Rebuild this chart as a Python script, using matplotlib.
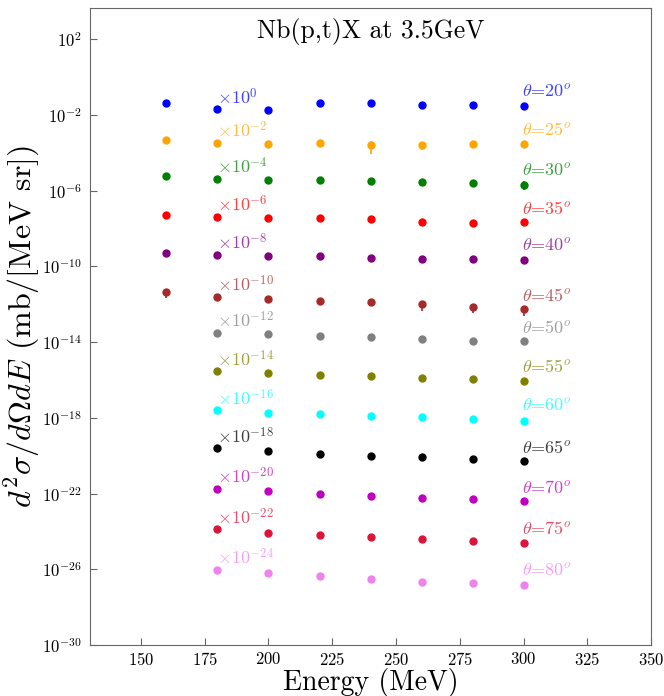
import numpy as np
import matplotlib
matplotlib.use('Agg')
import matplotlib.pyplot as plt

# Computer Modern look (no LaTeX in the sandbox)
plt.rcParams['font.family'] = 'serif'
plt.rcParams['font.serif'] = ['cmr10']
plt.rcParams['mathtext.fontset'] = 'cm'
plt.rcParams['axes.formatter.use_mathtext'] = True

# Energies of the measured points (MeV)
energy = [160, 180, 200, 220, 240, 260, 280, 300]

angles = [20, 25, 30, 35, 40, 45, 50, 55, 60, 65, 70, 75, 80]
colors = ['blue', 'orange', 'green', 'red', 'purple', 'brown', 'grey',
          'olive', 'cyan', 'black', 'm', 'crimson', 'violet']

# cross sections in mb/(MeV sr), unscaled; nan = no point at 160 MeV
xs_20 = [0.046, 0.020, 0.018, 0.046, 0.041, 0.036, 0.035, 0.031]
xs_25 = [0.049, 0.035, 0.030, 0.032, 0.026, 0.026, 0.029, 0.030]
xs_30 = [0.060, 0.044, 0.037, 0.037, 0.033, 0.030, 0.025, 0.021]
xs_35 = [0.052, 0.043, 0.035, 0.038, 0.033, 0.023, 0.020, 0.022]
xs_40 = [0.049, 0.042, 0.035, 0.035, 0.029, 0.024, 0.024, 0.022]
xs_45 = [0.043, 0.025, 0.020, 0.015, 0.013, 0.0099, 0.0069, 0.0054]
xs_50 = [np.nan, 0.032, 0.026, 0.020, 0.018, 0.014, 0.012, 0.011]
xs_55 = [np.nan, 0.030, 0.023, 0.019, 0.016, 0.0125, 0.0107, 0.0089]
xs_60 = [np.nan, 0.025, 0.019, 0.0155, 0.0126, 0.0105, 0.0085, 0.0072]
xs_65 = [np.nan, 0.025, 0.017, 0.013, 0.010, 0.0085, 0.0068, 0.0052]
xs_70 = [np.nan, 0.018, 0.0135, 0.0098, 0.0072, 0.0060, 0.0051, 0.0040]
xs_75 = [np.nan, 0.0129, 0.0085, 0.0062, 0.0050, 0.0039, 0.0031, 0.0025]
xs_80 = [np.nan, 0.0093, 0.0062, 0.0042, 0.0032, 0.0021, 0.0019, 0.0014]

# relative errors (most are hidden behind the markers)
err_20 = [0.1, 0.3, 0.1, 0.1, 0.1, 0.1, 0.1, 0.1]
err_25 = [0.1, 0.1, 0.1, 0.1, 0.68, 0.48, 0.35, 0.1]
err_30 = [0.1, 0.1, 0.1, 0.1, 0.1, 0.1, 0.1, 0.5]
err_45 = [0.52, 0.1, 0.1, 0.1, 0.1, 0.55, 0.48, 0.53]
err_default = [0.1] * 8

cross_sections = [xs_20, xs_25, xs_30, xs_35, xs_40, xs_45, xs_50,
                  xs_55, xs_60, xs_65, xs_70, xs_75, xs_80]
rel_errors = [err_20, err_25, err_30, err_default, err_default, err_45,
              err_default, err_default, err_default, err_default,
              err_default, err_default, err_default]

fig = plt.figure(figsize=(6.64, 6.96), dpi=100)
ax = fig.add_axes([0.1355, 0.0733, 0.845, 0.915])

for i, ang in enumerate(angles):
    scale = 10.0 ** (-2 * i)
    y = np.array(cross_sections[i]) * scale
    yerr = y * np.array(rel_errors[i])
    ax.errorbar(energy, y, yerr=yerr, fmt='o', color=colors[i], ms=5,
                elinewidth=1.2, capsize=0)
    # multiplier label next to the 180 MeV point, angle label at 300 MeV
    ax.annotate(r'$\times10^{%d}$' % (-2 * i), (180, y[1]), xytext=(0, 1.5),
                textcoords='offset points', ha='left', va='bottom',
                color=colors[i], alpha=0.75, fontsize=13)
    ax.annotate(r'$\theta$=%d$^o$' % ang, (300, y[-1]), xytext=(-1, 4),
                textcoords='offset points', ha='left', va='bottom',
                color=colors[i], alpha=0.75, fontsize=13)

ax.set_yscale('log')
ax.set_xlim(130, 350)
ax.set_ylim(1e-30, 10 ** 3.65)
ax.set_xticks(np.arange(150, 351, 25))
ax.set_yticks([10.0 ** k for k in range(2, -31, -4)])
ax.minorticks_off()
ax.tick_params(direction='in', length=5, color='#666666', labelsize=12)
ax.tick_params(axis='y', pad=6)
ax.tick_params(axis='x', pad=4)
for sp in ax.spines.values():
    sp.set_color('#666666')

ax.text(0.5, 0.985, 'Nb(p,t)X at 3.5GeV', transform=ax.transAxes,
        ha='center', va='top', fontsize=18.5)
ax.set_xlabel('Energy (MeV)', fontsize=20, labelpad=0)
ax.set_ylabel(r'$d^2\sigma/d\Omega dE$ (mb/[MeV sr])', fontsize=23, labelpad=0)

fig.savefig('out.png', dpi=100)
